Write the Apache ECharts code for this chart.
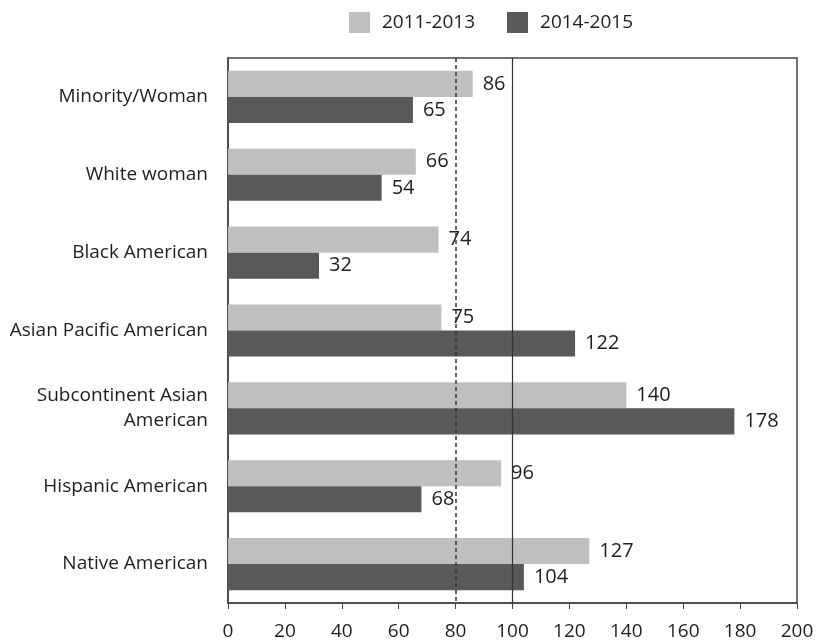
<!DOCTYPE html>
<html>
<head>
<meta charset="utf-8">
<script src="https://cdn.jsdelivr.net/npm/echarts@6/dist/echarts.min.js"></script>
<style>
  html, body { margin: 0; padding: 0; background: #fff; }
  #chart { width: 821px; height: 643px; }
</style>
</head>
<body>
<div id="chart"></div>
<script>
const categories = [
  'Minority/Woman',
  'White woman',
  'Black American',
  'Asian Pacific American',
  'Subcontinent Asian\nAmerican',
  'Hispanic American',
  'Native American'
];
const values2011_2013 = [86, 66, 74, 75, 140, 96, 127];
const values2014_2015 = [65, 54, 32, 122, 178, 68, 104];
const xTicks = { min: 0, max: 200, interval: 20 };
const referenceLines = { dashed: 80, solid: 100 };

const FONT = 'Open Sans';
const TEXT = '#1e1e1e';
const SIZE = 19;

const chart = echarts.init(document.getElementById('chart'), null, { renderer: 'canvas' });

const labelStyle = {
  show: true,
  position: 'right',
  distance: 10,
  color: TEXT,
  fontFamily: FONT,
  fontSize: 20
};

chart.setOption({
  animation: false,
  backgroundColor: '#fff',
  legend: {
    top: 7,
    left: 344,
    itemWidth: 21,
    itemHeight: 21,
    itemGap: 32,
    icon: 'rect',
    textStyle: { color: TEXT, fontFamily: FONT, fontSize: SIZE, padding: [0, 0, 0, 7] },
    data: ['2011-2013', '2014-2015']
  },
  grid: {
    left: 228,
    right: 24,
    top: 58,
    bottom: 40,
    show: true,
    borderColor: '#444',
    borderWidth: 1.5,
    containLabel: false
  },
  xAxis: {
    type: 'value',
    min: xTicks.min,
    max: xTicks.max,
    interval: xTicks.interval,
    splitLine: { show: false },
    axisLine: { show: true, lineStyle: { color: '#444', width: 1.5 } },
    axisTick: { show: true, length: 6, lineStyle: { color: '#444' } },
    axisLabel: { color: TEXT, fontFamily: FONT, fontSize: SIZE, margin: 19 }
  },
  yAxis: {
    type: 'category',
    inverse: true,
    data: categories,
    axisLine: { show: true, lineStyle: { color: '#444', width: 1.5 } },
    axisTick: { show: false },
    axisLabel: { color: TEXT, fontFamily: FONT, fontSize: SIZE, margin: 20, align: 'right', lineHeight: 25 }
  },
  series: [
    {
      name: '2011-2013',
      type: 'bar',
      data: values2011_2013,
      barGap: '0%',
      barCategoryGap: '33%',
      itemStyle: { color: '#bfbfbf' },
      label: labelStyle,
      markLine: {
        silent: true,
        symbol: 'none',
        label: { show: false },
        data: [
          { xAxis: referenceLines.dashed, lineStyle: { type: [4, 3], color: '#333', width: 1.5 } },
          { xAxis: referenceLines.solid, lineStyle: { type: 'solid', color: '#333', width: 1.2 } }
        ]
      }
    },
    {
      name: '2014-2015',
      type: 'bar',
      data: values2014_2015,
      barGap: '0%',
      barCategoryGap: '33%',
      itemStyle: { color: '#595959' },
      label: labelStyle
    }
  ]
});
</script>
</body>
</html>
